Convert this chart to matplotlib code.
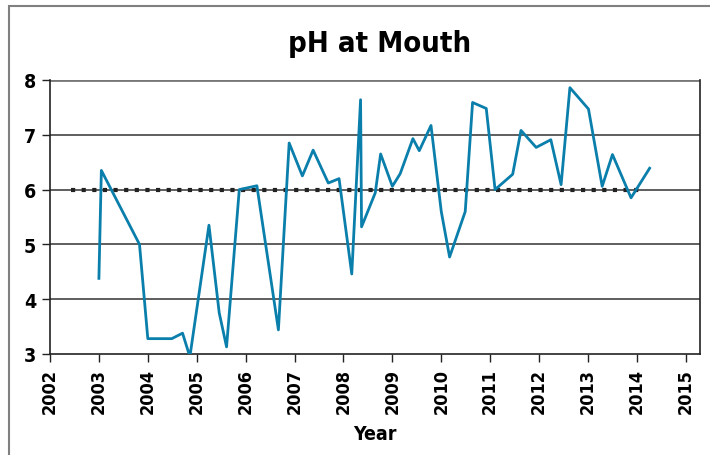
import matplotlib
matplotlib.use("Agg")
import matplotlib.pyplot as plt
from matplotlib import font_manager
from matplotlib.patches import Rectangle

# narrow bold look: use a condensed face if one is installed
names = set(f.name for f in font_manager.fontManager.ttflist)
font = "Liberation Sans Narrow" if "Liberation Sans Narrow" in names else "DejaVu Sans"
stretch = "condensed"

# sample dates (decimal year) and pH readings
years = [2003.00, 2003.05, 2003.83, 2004.00, 2004.49, 2004.71, 2004.86,
         2005.25, 2005.46, 2005.61, 2005.87, 2006.23, 2006.67, 2006.89,
         2007.16, 2007.38, 2007.69, 2007.91, 2008.17, 2008.35, 2008.37,
         2008.65, 2008.76, 2009.00, 2009.16, 2009.42, 2009.55, 2009.79,
         2010.00, 2010.17, 2010.49, 2010.64, 2010.92, 2011.10, 2011.46,
         2011.63, 2011.94, 2012.24, 2012.45, 2012.63, 2013.01, 2013.29,
         2013.50, 2013.88, 2014.26]
ph = [4.38, 6.35, 5.00, 3.28, 3.28, 3.38, 2.95,
      5.35, 3.75, 3.13, 6.00, 6.07, 3.44, 6.85,
      6.25, 6.72, 6.12, 6.20, 4.46, 7.64, 5.32,
      5.94, 6.65, 6.06, 6.29, 6.93, 6.71, 7.17,
      5.60, 4.77, 5.60, 7.59, 7.48, 6.00, 6.28,
      7.08, 6.77, 6.91, 6.09, 7.86, 7.47, 6.06,
      6.64, 5.85, 6.39]

# guideline at pH 6
guide_x = [2002.43, 2014.15]
guide_y = [6, 6]

year_ticks = list(range(2002, 2016))
ph_ticks = [3, 4, 5, 6, 7, 8]

fig = plt.figure(figsize=(7.1, 4.56), dpi=100)
fig.patches.append(Rectangle((9 / 710, -0.1), 1.1, 1.1 - 7 / 456, transform=fig.transFigure,
                             fill=False, edgecolor="#808080", linewidth=1.5))
ax = fig.add_axes([50 / 710, 1 - 355 / 456, 650 / 710, 274 / 456])

for v in ph_ticks[1:]:
    ax.axhline(v, color="#777777" if v == 8 else "#333333",
               linewidth=2 if v == 8 else 1.1, zorder=1)

ax.plot(guide_x, guide_y, color="#222222", linewidth=3.0, linestyle=(0, (1.0, 1.55)),
        dash_capstyle="butt", zorder=2)
ax.plot(years, ph, color="#0a7fab", linewidth=2.0, zorder=3)

ax.set_xlim(2002, 2015.29)
ax.set_ylim(3, 8)
ax.set_xticks(year_ticks)
ax.set_yticks(ph_ticks)
ax.set_xticklabels([str(y) for y in year_ticks], rotation=90, fontsize=13,
                   fontweight="bold", family=font, fontstretch=stretch)
ax.set_yticklabels([str(v) for v in ph_ticks], fontsize=14, fontweight="bold",
                   family=font, fontstretch=stretch)
ax.tick_params(axis="both", length=6, width=1, color="#222222", pad=4)

for side in ["left", "bottom", "right"]:
    ax.spines[side].set_color("#222222")
    ax.spines[side].set_linewidth(1.2)
ax.spines["top"].set_visible(False)

ax.set_xlabel("Year", fontsize=14, fontweight="bold", family=font, fontstretch=stretch,
              labelpad=8)
fig.text(380 / 710, 1 - 44 / 456, "pH at Mouth", ha="center", va="center",
         fontsize=21, fontweight="bold", family=font, fontstretch=stretch)

fig.savefig("out.png", dpi=100)
